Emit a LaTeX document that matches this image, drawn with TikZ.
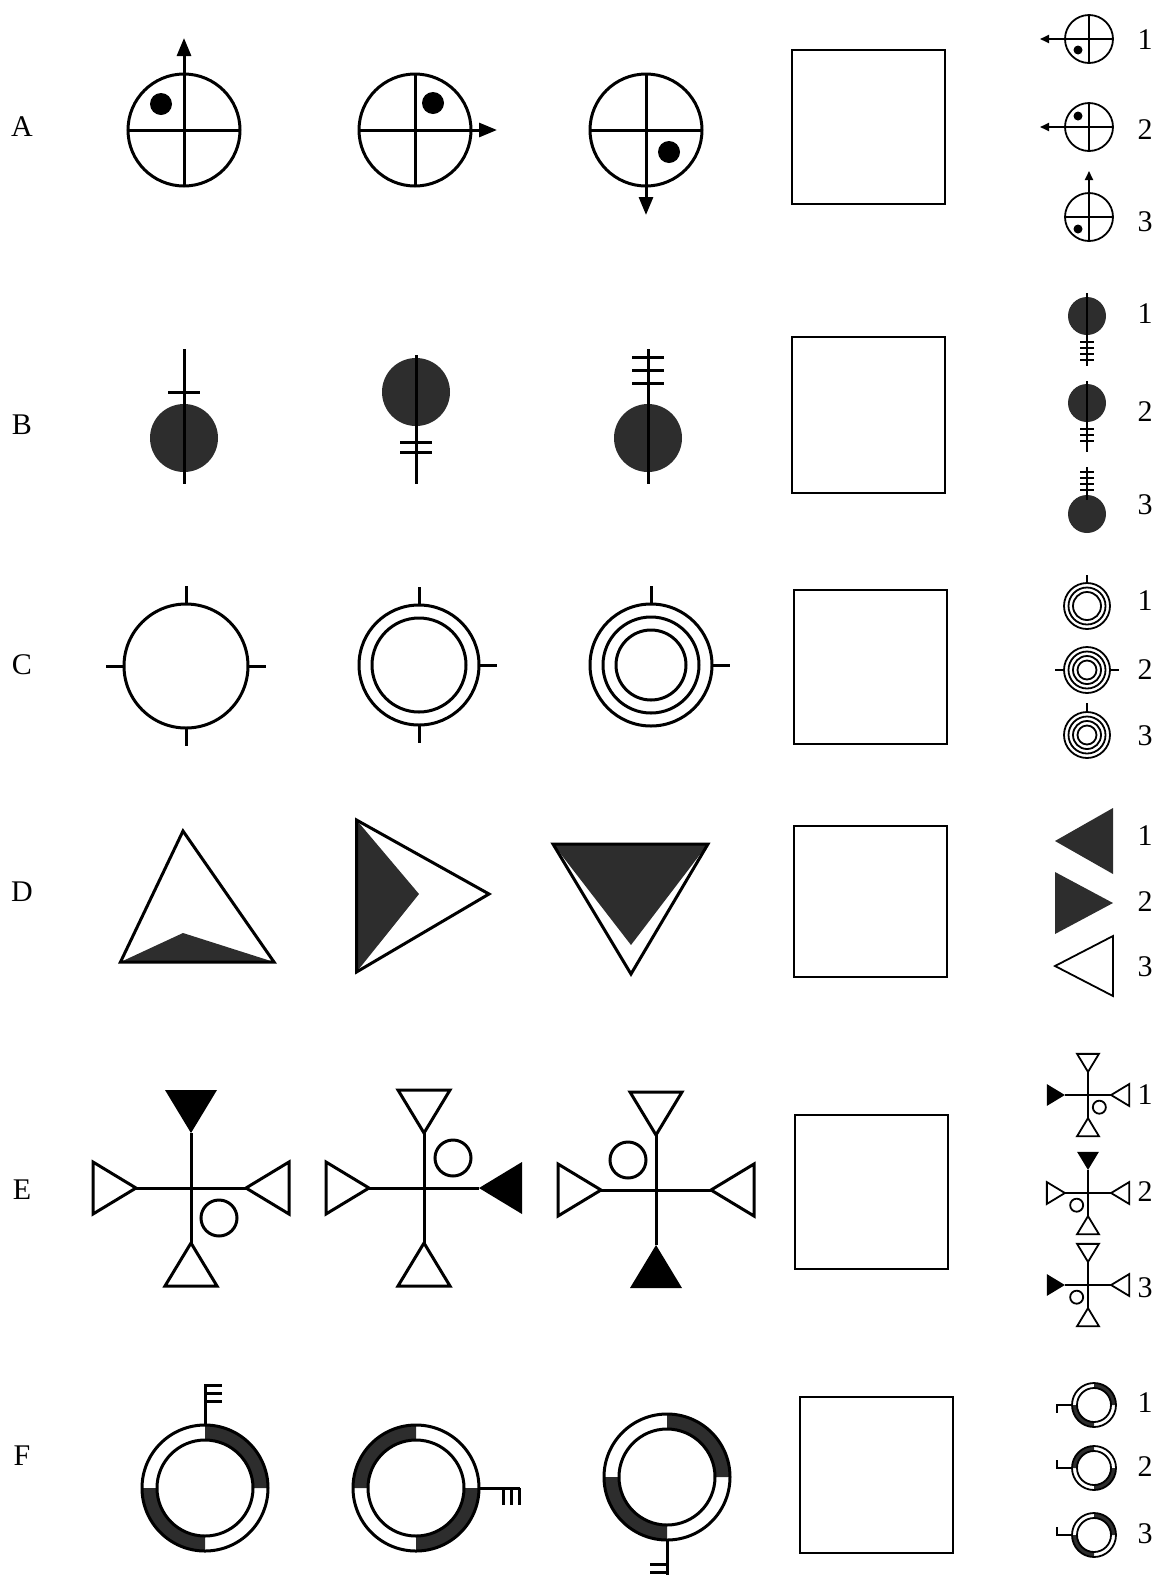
\documentclass[tikz,border=0pt]{standalone}
\usepackage{fontspec}
\setmainfont{Liberation Serif}
\usetikzlibrary{arrows.meta}
\definecolor{inkgray}{RGB}{45,45,45}

\begin{document}
\begin{tikzpicture}[x=0.5pt,y=-0.5pt,line width=1.5pt,
  lbl/.style={font=\fontsize{15}{18}\selectfont,inner sep=0pt},
  small/.style={line width=0.9pt},
  dk/.style={fill=inkgray},
  box/.style={draw,line width=1.1pt},
  bigtip/.style={-{Triangle[length=9pt,width=7pt]}},
  smalltip/.style={-{Triangle[length=4.5pt,width=4pt]}}]
\useasboundingbox (0,0) rectangle (1158,1575);
% row letters
\node[lbl] (rowA) at (22,127) {A};
\node[lbl] (rowB) at (22,425) {B};
\node[lbl] (rowC) at (22,665) {C};
\node[lbl] (rowD) at (22,892) {D};
\node[lbl] (rowE) at (22,1190) {E};
\node[lbl] (rowF) at (22,1456) {F};
% empty answer boxes
\draw[box] (792,50) rectangle (945,204);
\draw[box] (792,337) rectangle (945,493);
\draw[box] (794,590) rectangle (947,744);
\draw[box] (794,826) rectangle (947,977);
\draw[box] (795,1115) rectangle (948,1269);
\draw[box] (800,1397) rectangle (953,1553);
% option numbers
\foreach \r/\ya/\yb/\yc in {A/40/130/222, B/314/412/505, C/601/670/736, D/836/902/967, E/1095/1192/1288, F/1403/1467/1534} {
  \node[lbl] (opt\r1) at (1145,\ya) {1};
  \node[lbl] (opt\r2) at (1145,\yb) {2};
  \node[lbl] (opt\r3) at (1145,\yc) {3};
}

% row A: quartered discs
\draw (184,130) circle[radius=56];
\draw (128,130) -- (240,130);
\draw[bigtip] (184,186) -- (184,38);
\fill (161,104) circle[radius=11];
\draw (415,130) circle[radius=56];
\draw (415,74) -- (415,186);
\draw[bigtip] (359,130) -- (497,130);
\fill (433,103) circle[radius=11];
\draw (646,130) circle[radius=56];
\draw (590,130) -- (702,130);
\draw[bigtip] (646,74) -- (646,215);
\fill (669,152) circle[radius=11];
% row A options
\draw[small] (1089,39) circle[radius=24];
\draw[small] (1089,15) -- (1089,63);
\draw[small,smalltip] (1113,39) -- (1040,39);
\fill (1078,50) circle[radius=4.5];
\draw[small] (1089,127) circle[radius=24];
\draw[small] (1089,103) -- (1089,151);
\draw[small,smalltip] (1113,127) -- (1040,127);
\fill (1078,116) circle[radius=4.5];
\draw[small] (1089,217) circle[radius=24];
\draw[small] (1065,217) -- (1113,217);
\draw[small,smalltip] (1089,241) -- (1089,171);
\fill (1078,229) circle[radius=4.5];

% row B: discs on a stick
\fill[dk] (184,438) circle[radius=34];
\draw (184,349) -- (184,484);
\draw (168,392) -- (200,392);
\fill[dk] (416,392) circle[radius=34];
\draw (416,355) -- (416,484);
\foreach \t in {442,452} \draw (400,\t) -- (432,\t);
\fill[dk] (648,438) circle[radius=34];
\draw (648,349) -- (648,484);
\foreach \t in {357,370,383} \draw (632,\t) -- (664,\t);
% row B options
\fill[dk] (1087,316) circle[radius=19];
\draw[small] (1087,293) -- (1087,366);
\foreach \t in {342,348,354,360} \draw[small] (1080,\t) -- (1094,\t);
\fill[dk] (1087,403) circle[radius=19];
\draw[small] (1087,381) -- (1087,452);
\foreach \t in {429,435,441} \draw[small] (1080,\t) -- (1094,\t);
\fill[dk] (1087,514) circle[radius=19];
\draw[small] (1087,467) -- (1087,500);
\foreach \t in {472,478,484,490} \draw[small] (1080,\t) -- (1094,\t);

% row C: rings with ticks
\draw (186,666) circle[radius=62];
\foreach \a in {0,90,180,270} \draw (186,666) ++(\a:62) -- ++(\a:18);
\draw (419,665) circle[radius=60];
\draw (419,665) circle[radius=47];
\foreach \a in {0,90,270} \draw (419,665) ++(\a:60) -- ++(\a:18);
\draw (651,665) circle[radius=61];
\draw (651,665) circle[radius=48];
\draw (651,665) circle[radius=35];
\foreach \a in {0,270} \draw (651,665) ++(\a:61) -- ++(\a:18);
% row C options
\foreach \rr in {23,18.5,14} \draw[small] (1087,606) circle[radius=\rr];
\draw[small] (1087,583) -- (1087,575);
\foreach \rr in {23,18.5,14,9.5} \draw[small] (1087,670) circle[radius=\rr];
\foreach \a in {0,180} \draw[small] (1087,670) ++(\a:23) -- ++(\a:9);
\foreach \rr in {23,18.5,14,9.5} \draw[small] (1087,735) circle[radius=\rr];
\draw[small] (1087,712) -- (1087,703);

% row D: triangles with dark part
\fill[dk] (120.5,962) -- (183,933) -- (274,962) -- cycle;
\draw (183,831) -- (274,962) -- (120.5,962) -- cycle;
\fill[dk] (356.5,820) -- (419,894) -- (356.5,972) -- cycle;
\draw (356.5,820) -- (489,894) -- (356.5,972) -- cycle;
\fill[dk] (553,844) -- (708,844) -- (631,945) -- cycle;
\draw (553,844) -- (708,844) -- (631,974) -- cycle;
% row D options
\fill[dk] (1055,841) -- (1113,808) -- (1113,874) -- cycle;
\fill[dk] (1055,872) -- (1113,903) -- (1055,934) -- cycle;
\draw[small] (1055,966) -- (1113,936) -- (1113,996) -- cycle;

% row E: crosses with four triangles
\begin{scope}[shift={(191,1188)}]
  \draw (-55,0) -- (55,0) (0,-55) -- (0,55);
  \fill (0,-55) -- (-26,-98) -- (26,-98) -- cycle;
  \draw (0,55) -- (-26,98) -- (26,98) -- cycle;
  \draw (-55,0) -- (-98,-26) -- (-98,26) -- cycle;
  \draw (55,0) -- (98,-26) -- (98,26) -- cycle;
  \draw (28,30) circle[radius=18];
\end{scope}
\begin{scope}[shift={(424,1188)}]
  \draw (-55,0) -- (55,0) (0,-55) -- (0,55);
  \draw (0,-55) -- (-26,-98) -- (26,-98) -- cycle;
  \draw (0,55) -- (-26,98) -- (26,98) -- cycle;
  \draw (-55,0) -- (-98,-26) -- (-98,26) -- cycle;
  \fill (55,0) -- (98,-26) -- (98,26) -- cycle;
  \draw (29,-30) circle[radius=18];
\end{scope}
\begin{scope}[shift={(656,1190)}]
  \draw (-55,0) -- (55,0) (0,-55) -- (0,55);
  \draw (0,-55) -- (-26,-98) -- (26,-98) -- cycle;
  \fill (0,55) -- (-26,98) -- (26,98) -- cycle;
  \draw (-55,0) -- (-98,-26) -- (-98,26) -- cycle;
  \draw (55,0) -- (98,-26) -- (98,26) -- cycle;
  \draw (-28,-30) circle[radius=18];
\end{scope}
% row E options
\foreach \y/\cxo/\ft in {1095/27/l, 1193/-27/t, 1285/-27/l} {
\begin{scope}[shift={(1088,\y)},scale=0.42,small]
  \draw (-55,0) -- (55,0) (0,-55) -- (0,55);
  \draw (0,55) -- (-26,98) -- (26,98) -- cycle;
  \draw (55,0) -- (98,-26) -- (98,26) -- cycle;
  \draw (\cxo,29) circle[radius=15.5];
  \if\ft l
    \fill (-55,0) -- (-98,-26) -- (-98,26) -- cycle;
    \draw (0,-55) -- (-26,-98) -- (26,-98) -- cycle;
  \else
    \draw (-55,0) -- (-98,-26) -- (-98,26) -- cycle;
    \fill (0,-55) -- (-26,-98) -- (26,-98) -- cycle;
  \fi
\end{scope}
}

% row F: split rings with keys
\foreach \a [evaluate=\a as \b using \a+90] in {270,90}
  \fill[dk] (205,1488) ++(\a:63) arc[start angle=\a,end angle=\b,radius=63] -- ++(\b:-15) arc[start angle=\b,end angle=\a,radius=48] -- cycle;
\draw (205,1488) circle[radius=63] (205,1488) circle[radius=48];
\draw (205,1425) -- (205,1384);
\foreach \t in {1385,1393,1401} \draw (205,\t) -- (222,\t);
\foreach \a [evaluate=\a as \b using \a+90] in {180,0}
  \fill[dk] (416,1488) ++(\a:63) arc[start angle=\a,end angle=\b,radius=63] -- ++(\b:-15) arc[start angle=\b,end angle=\a,radius=48] -- cycle;
\draw (416,1488) circle[radius=63] (416,1488) circle[radius=48];
\draw (479,1488) -- (520,1488);
\foreach \t in {503,511,519} \draw (\t,1488) -- (\t,1505);
\foreach \a [evaluate=\a as \b using \a+90] in {270,90}
  \fill[dk] (667,1477) ++(\a:63) arc[start angle=\a,end angle=\b,radius=63] -- ++(\b:-15) arc[start angle=\b,end angle=\a,radius=48] -- cycle;
\draw (667,1477) circle[radius=63] (667,1477) circle[radius=48];
\draw (667,1540) -- (667,1590);
\foreach \t in {1564,1572,1580} \draw (667,\t) -- (650,\t);
% row F options
\foreach \y/\s/\hk in {1405/270/8, 1468/180/-8, 1535/270/-8} {
  \foreach \a [evaluate=\a as \b using \a+90] in {\s,\s+180}
    \fill[dk] (1094,\y) ++(\a:22) arc[start angle=\a,end angle=\b,radius=22] -- ++(\b:-5) arc[start angle=\b,end angle=\a,radius=17] -- cycle;
  \draw[small] (1094,\y) circle[radius=22] (1094,\y) circle[radius=17];
  \draw[small] (1072,\y) -- (1057,\y) -- ++(0,\hk);
}
\end{tikzpicture}
\end{document}
